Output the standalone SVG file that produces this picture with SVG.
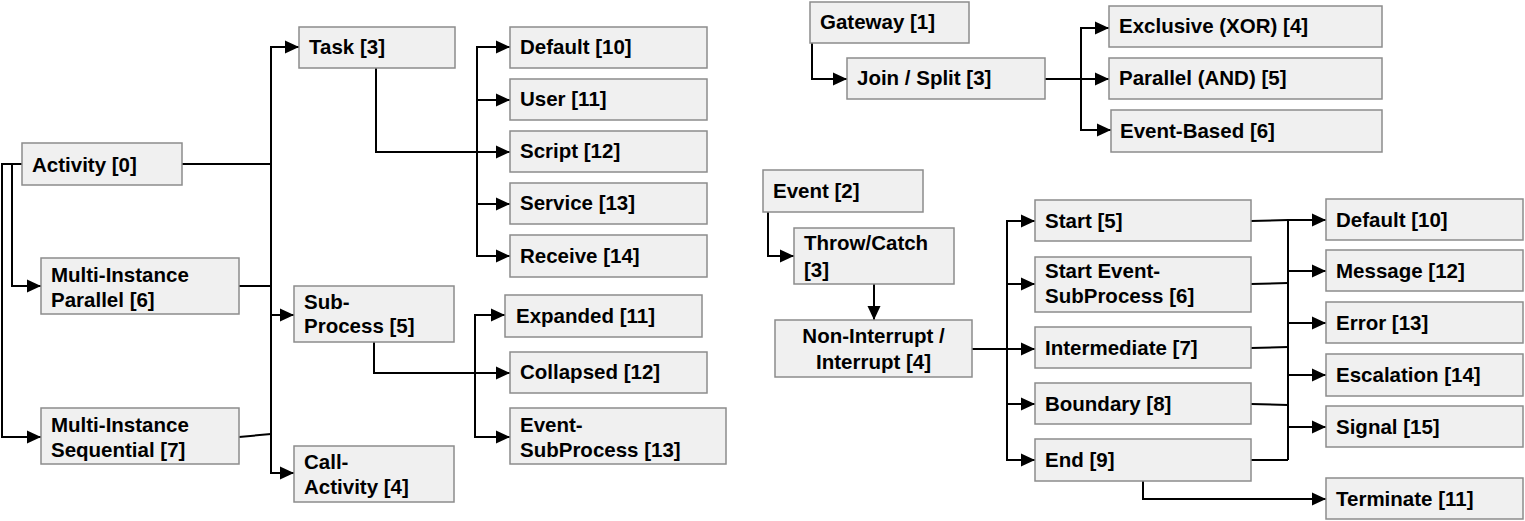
<svg xmlns="http://www.w3.org/2000/svg" width="1525" height="521" viewBox="0 0 1525 521">
<style>
.b{fill:#f0f0f0;stroke:#8c8c8c;stroke-width:1.5}
.t{font-family:"Liberation Sans",Arial,sans-serif;font-weight:bold;font-size:20.5px;fill:#000}
.c{fill:none;stroke:#000;stroke-width:2}
.a{marker-end:url(#ah)}
</style>
<defs>
<marker id="ah" markerUnits="userSpaceOnUse" markerWidth="15" markerHeight="14" refX="14" refY="7" orient="auto">
<path d="M0,0.5 L14,7 L0,13.5 z" fill="#000"/>
</marker>
</defs>
<rect width="1525" height="521" fill="#fff"/>
<g id="connectors">
<path class="c" d="M22,164 H2 V437 H41"/>
<path class="c a" d="M2,437 H41"/>
<path class="c a" d="M12,164 V286 H41"/>
<path class="c" d="M182,164 H271"/>
<path class="c a" d="M271,164 V47 H299"/>
<path class="c a" d="M271,164 V315 H294"/>
<path class="c a" d="M271,164 V473 H294"/>
<path class="c" d="M239,286 H271"/>
<path class="c" d="M239,437 L271,434"/>
<path class="c a" d="M376,68 V152 H510"/>
<path class="c a" d="M477,152 V47 H510"/>
<path class="c a" d="M477,152 V100 H510"/>
<path class="c a" d="M477,152 V204 H510"/>
<path class="c a" d="M477,152 V256 H510"/>
<path class="c a" d="M374,342 V373 H510"/>
<path class="c a" d="M475,373 V315 H505"/>
<path class="c a" d="M475,373 V437 H510"/>
<path class="c a" d="M812,43 V79 H847"/>
<path class="c a" d="M1045,79 H1109"/>
<path class="c a" d="M1081,79 V28 H1109"/>
<path class="c a" d="M1081,79 V130 H1111"/>
<path class="c a" d="M768,212 V256 H794"/>
<path class="c a" d="M874,284 V320"/>
<path class="c a" d="M972,349 H1035"/>
<path class="c a" d="M1007,349 V221 H1035"/>
<path class="c a" d="M1007,349 V284 H1035"/>
<path class="c a" d="M1007,349 V404 H1035"/>
<path class="c a" d="M1007,349 V460 H1035"/>
<path class="c a" d="M1251,221 L1288,220 H1326"/>
<path class="c" d="M1288,220 V460"/>
<path class="c" d="M1251,284 L1288,283"/>
<path class="c" d="M1251,348 L1288,347"/>
<path class="c" d="M1251,404 L1288,405"/>
<path class="c" d="M1251,460 H1288"/>
<path class="c a" d="M1288,271 H1326"/>
<path class="c a" d="M1288,323 H1326"/>
<path class="c a" d="M1288,375 H1326"/>
<path class="c a" d="M1288,427 H1326"/>
<path class="c a" d="M1143,481 V499 H1326"/>
</g>
<g id="n-activity"><rect class="b" x="22" y="143" width="160" height="42"/><text class="t" x="32" y="172">Activity [0]</text></g>
<g id="n-mi-parallel"><rect class="b" x="41" y="258" width="198" height="56"/><text class="t" x="51" y="282">Multi-Instance</text><text class="t" x="51" y="307">Parallel [6]</text></g>
<g id="n-mi-sequential"><rect class="b" x="41" y="408" width="198" height="56"/><text class="t" x="51" y="432">Multi-Instance</text><text class="t" x="51" y="457">Sequential [7]</text></g>
<g id="n-task"><rect class="b" x="299" y="27" width="156" height="41"/><text class="t" x="309" y="54">Task [3]</text></g>
<g id="n-subprocess"><rect class="b" x="294" y="286" width="160" height="56"/><text class="t" x="304" y="309">Sub-</text><text class="t" x="304" y="333">Process [5]</text></g>
<g id="n-callactivity"><rect class="b" x="294" y="446" width="160" height="56"/><text class="t" x="304" y="469">Call-</text><text class="t" x="304" y="494">Activity [4]</text></g>
<g id="n-task-default"><rect class="b" x="510" y="27" width="197" height="41"/><text class="t" x="520" y="54">Default [10]</text></g>
<g id="n-task-user"><rect class="b" x="510" y="79" width="197" height="41"/><text class="t" x="520" y="106">User [11]</text></g>
<g id="n-task-script"><rect class="b" x="510" y="131" width="197" height="41"/><text class="t" x="520" y="158">Script [12]</text></g>
<g id="n-task-service"><rect class="b" x="510" y="183" width="197" height="41"/><text class="t" x="520" y="210">Service [13]</text></g>
<g id="n-task-receive"><rect class="b" x="510" y="235" width="197" height="42"/><text class="t" x="520" y="263">Receive [14]</text></g>
<g id="n-sp-expanded"><rect class="b" x="505" y="295" width="197" height="42"/><text class="t" x="516" y="323">Expanded [11]</text></g>
<g id="n-sp-collapsed"><rect class="b" x="510" y="352" width="197" height="41"/><text class="t" x="520" y="379">Collapsed [12]</text></g>
<g id="n-sp-eventsub"><rect class="b" x="510" y="408" width="216" height="56"/><text class="t" x="520" y="432">Event-</text><text class="t" x="520" y="457">SubProcess [13]</text></g>
<g id="n-gateway"><rect class="b" x="810" y="2" width="159" height="41"/><text class="t" x="820" y="29">Gateway [1]</text></g>
<g id="n-joinsplit"><rect class="b" x="847" y="58" width="198" height="41"/><text class="t" x="857" y="85">Join / Split [3]</text></g>
<g id="n-gw-xor"><rect class="b" x="1109" y="6" width="273" height="41"/><text class="t" x="1119" y="33">Exclusive (XOR) [4]</text></g>
<g id="n-gw-and"><rect class="b" x="1109" y="58" width="273" height="41"/><text class="t" x="1119" y="85">Parallel (AND) [5]</text></g>
<g id="n-gw-event"><rect class="b" x="1111" y="110" width="271" height="42"/><text class="t" x="1120" y="138">Event-Based [6]</text></g>
<g id="n-event"><rect class="b" x="763" y="170" width="160" height="42"/><text class="t" x="773" y="198">Event [2]</text></g>
<g id="n-throwcatch"><rect class="b" x="794" y="228" width="160" height="56"/><text class="t" x="804" y="250">Throw/Catch</text><text class="t" x="804" y="277">[3]</text></g>
<g id="n-noninterrupt"><rect class="b" x="775" y="320" width="197" height="57"/><text class="t" x="873.5" y="343" text-anchor="middle">Non-Interrupt /</text><text class="t" x="873.5" y="369" text-anchor="middle">Interrupt [4]</text></g>
<g id="n-ev-start"><rect class="b" x="1035" y="200" width="216" height="41"/><text class="t" x="1045" y="228">Start [5]</text></g>
<g id="n-ev-startsub"><rect class="b" x="1035" y="257" width="216" height="55"/><text class="t" x="1045" y="278">Start Event-</text><text class="t" x="1045" y="303">SubProcess [6]</text></g>
<g id="n-ev-intermediate"><rect class="b" x="1035" y="327" width="216" height="41"/><text class="t" x="1045" y="355">Intermediate [7]</text></g>
<g id="n-ev-boundary"><rect class="b" x="1035" y="383" width="216" height="41"/><text class="t" x="1045" y="411">Boundary [8]</text></g>
<g id="n-ev-end"><rect class="b" x="1035" y="439" width="216" height="42"/><text class="t" x="1045" y="467">End [9]</text></g>
<g id="n-tr-default"><rect class="b" x="1326" y="199" width="197" height="41"/><text class="t" x="1336" y="227">Default [10]</text></g>
<g id="n-tr-message"><rect class="b" x="1326" y="250" width="197" height="41"/><text class="t" x="1336" y="278">Message [12]</text></g>
<g id="n-tr-error"><rect class="b" x="1326" y="302" width="197" height="41"/><text class="t" x="1336" y="330">Error [13]</text></g>
<g id="n-tr-escalation"><rect class="b" x="1326" y="354" width="197" height="42"/><text class="t" x="1336" y="382">Escalation [14]</text></g>
<g id="n-tr-signal"><rect class="b" x="1326" y="406" width="197" height="41"/><text class="t" x="1336" y="434">Signal [15]</text></g>
<g id="n-tr-terminate"><rect class="b" x="1326" y="478" width="197" height="41"/><text class="t" x="1336" y="506">Terminate [11]</text></g>
</svg>
